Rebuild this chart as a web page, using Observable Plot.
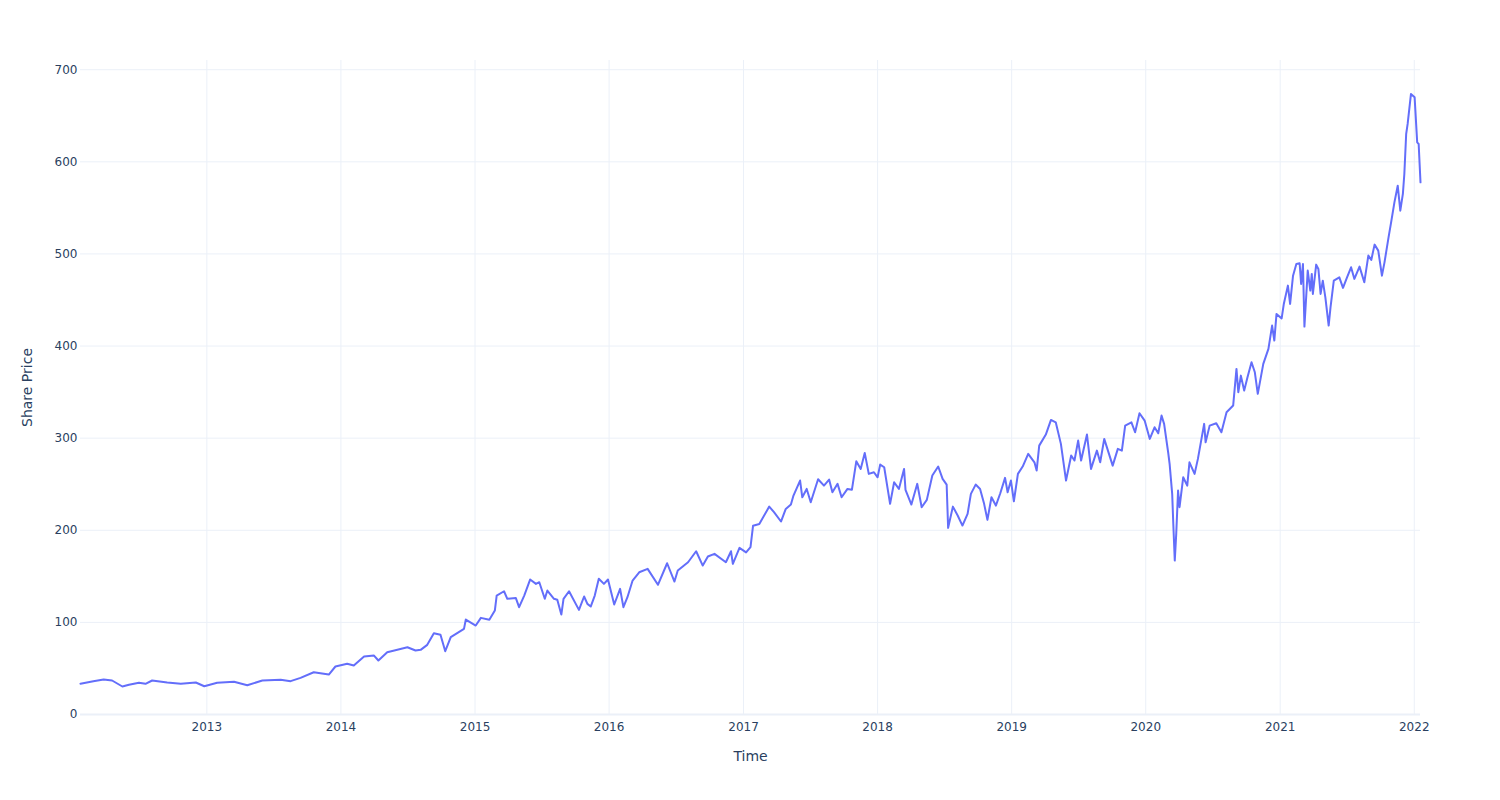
<!DOCTYPE html>
<html>
<head>
<meta charset="utf-8">
<script src="https://cdn.jsdelivr.net/npm/d3@7"></script>
<script src="https://cdn.jsdelivr.net/npm/@observablehq/plot@0.6"></script>
<style>
  html, body { margin: 0; padding: 0; background: #fff; }
  #chart { width: 1500px; height: 800px; }
</style>
</head>
<body>
<div id="chart"></div>
<script>
// Share price series (date, price)
const sharePrice = [
  ["2012-01-23", 33.4], ["2012-02-27", 36.2], ["2012-03-26", 38.0], ["2012-04-18", 36.9],
  ["2012-05-16", 30.4], ["2012-06-03", 32.2], ["2012-06-30", 34.4], ["2012-07-18", 33.3],
  ["2012-08-05", 36.9], ["2012-09-15", 34.7], ["2012-10-22", 33.3], ["2012-12-02", 34.7],
  ["2012-12-25", 30.7], ["2013-01-29", 34.4], ["2013-03-16", 35.5], ["2013-04-21", 31.8],
  ["2013-06-01", 36.9], ["2013-07-21", 37.6], ["2013-08-17", 36.2], ["2013-09-13", 39.8],
  ["2013-10-19", 45.9], ["2013-11-29", 43.4], ["2013-12-17", 52.1], ["2014-01-18", 55.0],
  ["2014-02-05", 53.2], ["2014-03-05", 62.9], ["2014-04-01", 64.0], ["2014-04-13", 58.6],
  ["2014-05-07", 67.6], ["2014-07-01", 73.0], ["2014-07-23", 69.5], ["2014-08-06", 70.2],
  ["2014-08-24", 75.6], ["2014-09-11", 88.3], ["2014-09-29", 86.5], ["2014-10-12", 68.7],
  ["2014-10-27", 83.9], ["2014-12-02", 93.0], ["2014-12-07", 103.1], ["2015-01-03", 96.6],
  ["2015-01-17", 104.9], ["2015-02-09", 102.8], ["2015-02-24", 112.9], ["2015-03-01", 129.1],
  ["2015-03-21", 133.8], ["2015-03-30", 125.6], ["2015-04-22", 126.6], ["2015-05-01", 116.5],
  ["2015-05-15", 129.1], ["2015-05-31", 146.5], ["2015-06-16", 141.8], ["2015-06-25", 143.6],
  ["2015-07-10", 125.6], ["2015-07-17", 134.6], ["2015-08-04", 125.6], ["2015-08-13", 124.5],
  ["2015-08-24", 108.5], ["2015-08-30", 125.6], ["2015-09-14", 133.8], ["2015-10-11", 113.6],
  ["2015-10-25", 128.1], ["2015-11-03", 120.1], ["2015-11-12", 117.2], ["2015-11-23", 129.1],
  ["2015-12-04", 147.3], ["2015-12-18", 141.8], ["2015-12-29", 146.5], ["2016-01-15", 119.4],
  ["2016-01-31", 136.4], ["2016-02-09", 116.5], ["2016-02-20", 127.3], ["2016-03-05", 145.4],
  ["2016-03-23", 154.4], ["2016-04-15", 158.1], ["2016-05-13", 140.8], ["2016-06-07", 164.2],
  ["2016-06-27", 144.3], ["2016-07-06", 156.3], ["2016-08-03", 165.3], ["2016-08-25", 177.2],
  ["2016-09-12", 161.7], ["2016-09-26", 171.5], ["2016-10-14", 174.4], ["2016-11-14", 165.3],
  ["2016-11-28", 177.2], ["2016-12-03", 163.6], ["2016-12-21", 180.9], ["2017-01-08", 176.0],
  ["2017-01-20", 181.6], ["2017-01-27", 205.0], ["2017-02-13", 206.9], ["2017-03-12", 225.7],
  ["2017-03-25", 219.6], ["2017-04-13", 209.5], ["2017-04-26", 223.2], ["2017-05-10", 227.9],
  ["2017-05-17", 237.7], ["2017-06-04", 254.0], ["2017-06-10", 235.8], ["2017-06-22", 244.9],
  ["2017-07-03", 230.4], ["2017-07-23", 255.4], ["2017-08-08", 248.5], ["2017-08-22", 255.0],
  ["2017-08-31", 241.3], ["2017-09-14", 250.4], ["2017-09-25", 235.8], ["2017-10-11", 244.9],
  ["2017-10-23", 243.9], ["2017-11-04", 274.9], ["2017-11-16", 266.6], ["2017-11-27", 284.0],
  ["2017-12-08", 261.2], ["2017-12-22", 263.0], ["2018-01-01", 257.5], ["2018-01-08", 271.3],
  ["2018-01-19", 268.4], ["2018-02-04", 228.7], ["2018-02-15", 252.1], ["2018-02-28", 244.9],
  ["2018-03-14", 266.6], ["2018-03-18", 243.9], ["2018-04-03", 227.9], ["2018-04-19", 250.4],
  ["2018-05-01", 225.0], ["2018-05-15", 233.0], ["2018-05-30", 259.4], ["2018-06-15", 269.2],
  ["2018-06-27", 255.8], ["2018-07-08", 249.6], ["2018-07-12", 202.6], ["2018-07-25", 225.7],
  ["2018-08-07", 216.0], ["2018-08-20", 205.1], ["2018-09-03", 217.8], ["2018-09-12", 239.5],
  ["2018-09-25", 249.6], ["2018-10-07", 244.9], ["2018-10-18", 228.7], ["2018-10-27", 211.3],
  ["2018-11-07", 235.8], ["2018-11-19", 226.8], ["2018-12-01", 240.2], ["2018-12-14", 256.9],
  ["2018-12-21", 241.3], ["2018-12-30", 254.0], ["2019-01-07", 231.5], ["2019-01-18", 261.2],
  ["2019-01-31", 269.2], ["2019-02-15", 282.9], ["2019-03-04", 273.8], ["2019-03-10", 264.8],
  ["2019-03-17", 291.9], ["2019-04-04", 303.9], ["2019-04-18", 319.8], ["2019-05-01", 317.2],
  ["2019-05-15", 293.8], ["2019-05-29", 254.0], ["2019-06-12", 281.1], ["2019-06-21", 275.7],
  ["2019-07-01", 297.4], ["2019-07-09", 275.7], ["2019-07-25", 303.9], ["2019-08-05", 266.6],
  ["2019-08-21", 286.5], ["2019-08-30", 273.8], ["2019-09-10", 299.2], ["2019-10-03", 270.2],
  ["2019-10-17", 288.4], ["2019-10-28", 286.5], ["2019-11-06", 313.6], ["2019-11-23", 317.2],
  ["2019-12-03", 306.4], ["2019-12-15", 327.0], ["2019-12-29", 319.1], ["2020-01-12", 299.2],
  ["2020-01-25", 311.8], ["2020-02-04", 305.3], ["2020-02-13", 324.5], ["2020-02-20", 315.5],
  ["2020-03-02", 284.7], ["2020-03-06", 272.1], ["2020-03-13", 239.5], ["2020-03-16", 207.0],
  ["2020-03-20", 167.1], ["2020-03-24", 196.1], ["2020-03-29", 243.1], ["2020-04-02", 225.0],
  ["2020-04-12", 257.5], ["2020-04-23", 248.5], ["2020-04-29", 273.8], ["2020-05-13", 261.2],
  ["2020-05-22", 277.5], ["2020-06-08", 315.5], ["2020-06-12", 295.5], ["2020-06-23", 313.6],
  ["2020-07-11", 316.2], ["2020-07-25", 306.4], ["2020-08-08", 328.1], ["2020-08-26", 335.4],
  ["2020-09-04", 375.2], ["2020-09-09", 349.8], ["2020-09-16", 367.9], ["2020-09-25", 351.6],
  ["2020-10-04", 366.1], ["2020-10-15", 382.4], ["2020-10-24", 371.5], ["2020-11-01", 348.1],
  ["2020-11-16", 380.6], ["2020-11-30", 396.9], ["2020-12-10", 422.2], ["2020-12-16", 405.9],
  ["2020-12-22", 434.9], ["2021-01-05", 430.0], ["2021-01-11", 446.0], ["2021-01-22", 465.6],
  ["2021-01-28", 445.7], ["2021-02-05", 476.4], ["2021-02-14", 489.1], ["2021-02-23", 489.8],
  ["2021-02-27", 467.4], ["2021-03-04", 489.1], ["2021-03-08", 421.1], ["2021-03-17", 481.9],
  ["2021-03-24", 460.2], ["2021-03-28", 478.3], ["2021-03-31", 456.6], ["2021-04-09", 488.4],
  ["2021-04-15", 483.7], ["2021-04-21", 456.6], ["2021-04-27", 471.0], ["2021-05-04", 452.9],
  ["2021-05-13", 422.2], ["2021-05-18", 442.0], ["2021-05-27", 471.0], ["2021-06-11", 474.6],
  ["2021-06-21", 463.1], ["2021-07-02", 474.6], ["2021-07-13", 485.5], ["2021-07-22", 472.9],
  ["2021-08-05", 486.2], ["2021-08-18", 469.2], ["2021-08-29", 498.2], ["2021-09-06", 493.5],
  ["2021-09-15", 510.1], ["2021-09-25", 503.6], ["2021-10-05", 476.4], ["2021-10-12", 490.9],
  ["2021-10-23", 518.0], ["2021-10-30", 534.3], ["2021-11-08", 556.0], ["2021-11-17", 574.1],
  ["2021-11-24", 547.0], ["2021-12-01", 565.1], ["2021-12-05", 586.8], ["2021-12-10", 630.2],
  ["2021-12-14", 641.1], ["2021-12-23", 673.6], ["2022-01-02", 670.0], ["2022-01-09", 621.1],
  ["2022-01-13", 619.4], ["2022-01-18", 577.7]
];

// Axis ticks
const yTicks = [0, 100, 200, 300, 400, 500, 600, 700];
const xTickYears = ["2013", "2014", "2015", "2016", "2017", "2018", "2019", "2020", "2021", "2022"];
const xTitle = "Time";
const yTitle = "Share Price";

const data = sharePrice.map(([d, v]) => ({date: new Date(d + "T00:00:00Z"), price: v}));
const xTicks = xTickYears.map(y => new Date(y + "-01-01T00:00:00Z"));

const gridColor = "#EBF0F8";
const textColor = "#2a3f5f";

const chart = Plot.plot({
  width: 1500,
  height: 800,
  marginLeft: 80,
  marginRight: 80,
  marginTop: 60,
  marginBottom: 86,
  style: {fontFamily: "DejaVu Sans", fontSize: "12px", color: textColor, background: "white"},
  x: {
    type: "utc",
    domain: [data[0].date, data[data.length - 1].date],
    ticks: xTicks,
    tickFormat: d3.utcFormat("%Y"),
    tickSize: 0,
    tickPadding: 8,
    label: null
  },
  y: {
    domain: [0, 710],
    ticks: yTicks,
    tickSize: 0,
    tickPadding: 3,
    label: null
  },
  marks: [
    Plot.ruleX(xTicks, {stroke: gridColor, strokeWidth: 1}),
    Plot.ruleY(yTicks.filter(d => d !== 0), {stroke: gridColor, strokeWidth: 1}),
    Plot.ruleY([0], {stroke: gridColor, strokeWidth: 2}),
    Plot.lineY(data, {x: "date", y: "price", stroke: "#636efa", strokeWidth: 2, strokeLinejoin: "round"}),
    Plot.text([xTitle], {frameAnchor: "bottom", dy: 42, lineAnchor: "middle", textAnchor: "middle", fontSize: 14, fill: textColor}),
    Plot.text([yTitle], {frameAnchor: "left", dx: -53, rotate: -90, lineAnchor: "middle", textAnchor: "middle", fontSize: 14, fill: textColor})
  ]
});

document.getElementById("chart").appendChild(chart);
</script>
</body>
</html>
